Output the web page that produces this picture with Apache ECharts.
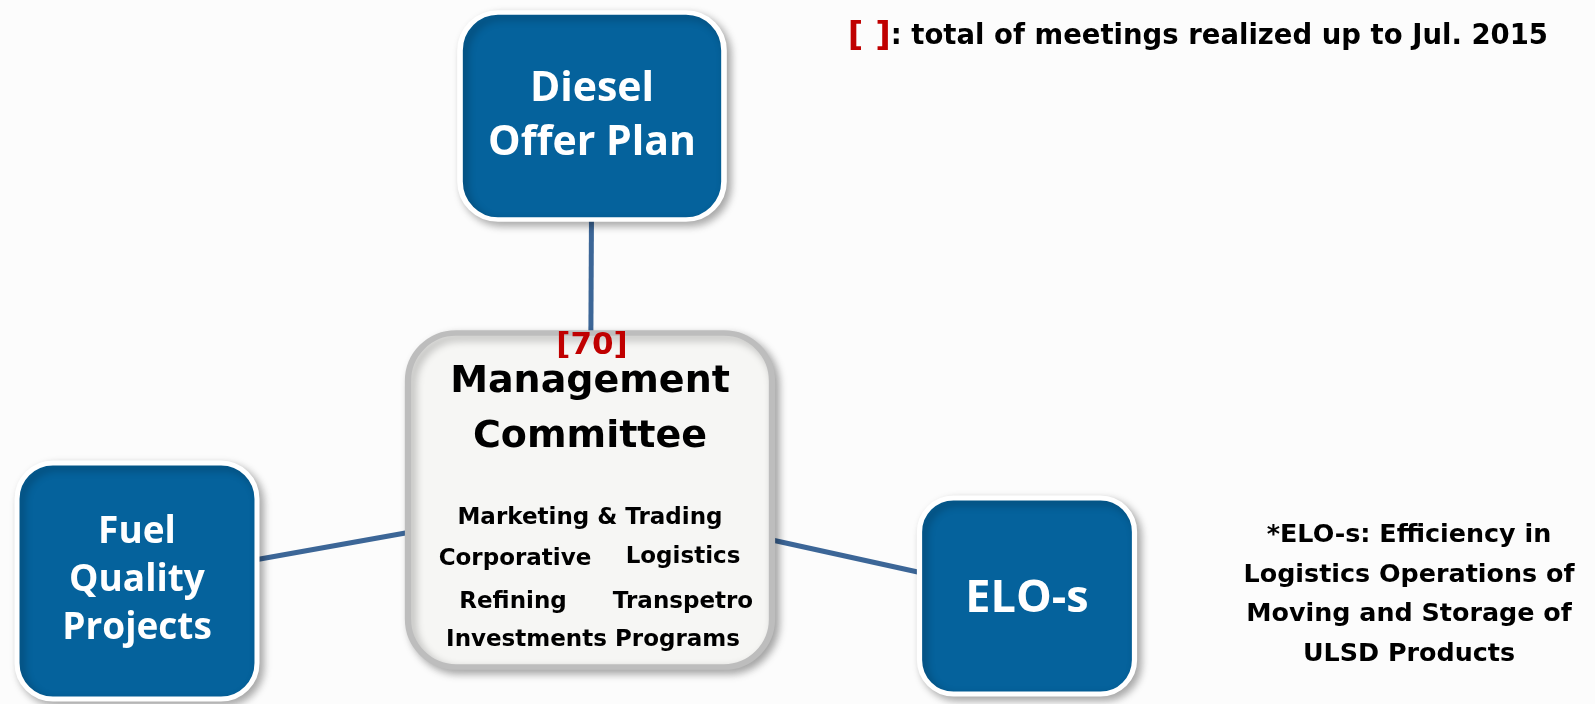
<!DOCTYPE html>
<html>
<head>
<meta charset="utf-8">
<script src="https://cdn.jsdelivr.net/npm/echarts@6/dist/echarts.min.js"></script>
<style>
  html, body { margin: 0; padding: 0; background: #fcfcfc; }
  #chart { width: 1595px; height: 704px; }
</style>
</head>
<body>
<div id="chart"></div>
<script>
// boxes of the diagram and who is linked to whom
const boxNames = ['Diesel\nOffer Plan', 'Management\nCommittee', 'Fuel\nQuality\nProjects', 'ELO-s'];
const boxLinks = [[0, 1], [2, 1], [3, 1]];
const meetings = ['[70]'];
const members = ['Marketing & Trading', 'Corporative', 'Logistics', 'Refining', 'Transpetro', 'Investments Programs'];
const legendText = ': total of meetings realized up to Jul. 2015';
const footnote = '*ELO-s: Efficiency in\nLogistics Operations of\nMoving and Storage of\nULSD Products';

// layout in page pixels: [cx, cy, w, h, radius]
const boxLayout = [
  [592, 116, 264, 207, 38],
  [590, 500, 364, 334, 48],
  [137, 581, 240, 236, 36],
  [1027, 596, 215, 196, 34]
];
const memberPos = [[590, 518], [515, 559], [683, 557], [513, 602], [683, 602], [593, 640]];
const meetingPos = [[592, 346]];

const BLUE = '#05629c';
const TAHOMA = '"DejaVu Sans", sans-serif';
const CALIBRI = '"Open Sans", sans-serif';

function roundPath(w, h, r) {
  return 'path://M' + r + ',0 H' + (w - r) + ' A' + r + ',' + r + ' 0 0 1 ' + w + ',' + r +
    ' V' + (h - r) + ' A' + r + ',' + r + ' 0 0 1 ' + (w - r) + ',' + h +
    ' H' + r + ' A' + r + ',' + r + ' 0 0 1 0,' + (h - r) +
    ' V' + r + ' A' + r + ',' + r + ' 0 0 1 ' + r + ',0 Z';
}

const boxStyles = [
  { fontSize: 41, lineHeight: 54, offset: [0, 0] },
  { fontSize: 38, lineHeight: 55, offset: [0, -90] },
  { fontSize: 37, lineHeight: 48, offset: [0, -1] },
  { fontSize: 45, lineHeight: 50, offset: [0, 3] }
];

const nodes = boxNames.map(function (name, i) {
  const b = boxLayout[i];
  const isMgmt = i === 1;
  return {
    name: name,
    value: [b[0], b[1]],
    symbol: roundPath(b[2], b[3], b[4]),
    symbolSize: [b[2], b[3]],
    itemStyle: {
      color: isMgmt ? '#f6f6f4' : BLUE,
      borderColor: isMgmt ? '#bdbdbd' : '#ffffff',
      borderWidth: isMgmt ? 6 : 5,
      shadowBlur: 8,
      shadowOffsetX: 4,
      shadowOffsetY: 4,
      shadowColor: 'rgba(0,0,0,0.3)'
    },
    label: {
      show: true,
      position: 'inside',
      offset: boxStyles[i].offset,
      color: isMgmt ? '#000' : '#fff',
      fontFamily: isMgmt ? TAHOMA : CALIBRI,
      fontWeight: 'bold',
      fontSize: boxStyles[i].fontSize,
      lineHeight: boxStyles[i].lineHeight,
      align: 'center'
    }
  };
});

const links = boxLinks.map(function (l) {
  return { source: boxNames[l[0]], target: boxNames[l[1]] };
});

const textPoints = members.map(function (m, i) {
  return { value: [memberPos[i][0], memberPos[i][1], m] };
}).concat(meetings.map(function (m, i) {
  return {
    value: [meetingPos[i][0], meetingPos[i][1], m],
    label: { color: '#c00000', fontSize: 31 }
  };
}));

const chart = echarts.init(document.getElementById('chart'));
chart.setOption({
  backgroundColor: '#fcfcfc',
  animation: false,
  grid: { left: 0, right: 0, top: 0, bottom: 0 },
  xAxis: { type: 'value', min: 0, max: 1595, show: false },
  yAxis: { type: 'value', min: 0, max: 704, inverse: true, show: false },
  series: [
    {
      type: 'graph',
      layout: 'none',
      coordinateSystem: 'cartesian2d',
      z: 2,
      data: nodes,
      links: links,
      lineStyle: { color: '#3c6697', width: 5, opacity: 1, curveness: 0 },
      emphasis: { disabled: true }
    },
    {
      type: 'scatter',
      z: 5,
      symbolSize: 1,
      itemStyle: { color: 'transparent', opacity: 1 },
      data: textPoints,
      label: {
        show: true,
        position: 'inside',
        formatter: function (p) { return p.value[2]; },
        color: '#000',
        fontFamily: TAHOMA,
        fontWeight: 'bold',
        fontSize: 23
      },
      emphasis: { disabled: true }
    }
  ],
  graphic: [
    {
      type: 'text',
      right: 47,
      top: 20,
      style: {
        text: '{r|[ ]}{t|' + legendText + '}',
        rich: {
          r: { fontFamily: TAHOMA, fontWeight: 'bold', fontSize: 34, fill: '#c00000' },
          t: { fontFamily: TAHOMA, fontWeight: 'bold', fontSize: 27.5, fill: '#000' }
        }
      }
    },
    {
      type: 'text',
      x: 1409,
      y: 595,
      style: {
        text: footnote,
        align: 'center',
        verticalAlign: 'middle',
        fontFamily: TAHOMA,
        fontWeight: 'bold',
        fontSize: 25.4,
        lineHeight: 39.5,
        fill: '#000'
      }
    }
  ]
});
</script>
</body>
</html>
